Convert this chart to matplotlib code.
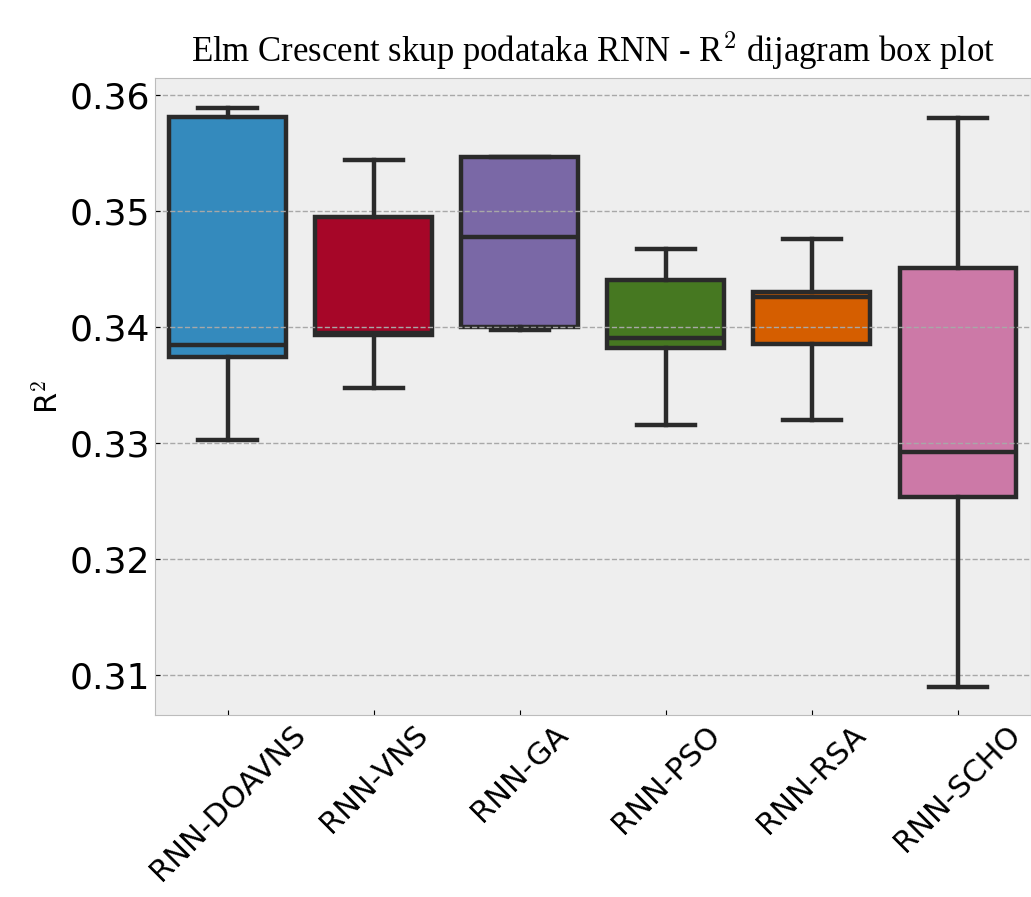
import matplotlib
matplotlib.use('Agg')
import matplotlib.pyplot as plt

plt.style.use('bmh')

# algorithms and box plot statistics
labels = ['RNN-DOAVNS', 'RNN-VNS', 'RNN-GA', 'RNN-PSO', 'RNN-RSA', 'RNN-SCHO']
whislo = [0.33026, 0.33474, 0.33974, 0.33155, 0.33198, 0.30897]
q1 = [0.33741, 0.33931, 0.34000, 0.33819, 0.33853, 0.32534]
med = [0.33845, 0.33948, 0.34776, 0.33905, 0.34259, 0.32922]
q3 = [0.35810, 0.34948, 0.35466, 0.34405, 0.34302, 0.34509]
whishi = [0.35888, 0.35440, 0.35466, 0.34672, 0.34759, 0.35802]
colors = ['#348ABD', '#A60628', '#7A68A6', '#467821', '#D55E00', '#CC79A7']
yticks = [0.31, 0.32, 0.33, 0.34, 0.35, 0.36]

stats = []
for i in range(len(labels)):
    stats.append({'label': labels[i], 'whislo': whislo[i], 'q1': q1[i],
                  'med': med[i], 'q3': q3[i], 'whishi': whishi[i], 'fliers': []})

fig = plt.figure(figsize=(10.31, 8.97), dpi=100)
ax = fig.add_axes([0.150, 0.203, 0.850, 0.710])

edge = '#2a2a2a'
lw = 3.2
bp = ax.bxp(stats, positions=range(len(labels)), widths=0.8, patch_artist=True,
            boxprops=dict(edgecolor=edge, linewidth=lw),
            medianprops=dict(color=edge, linewidth=lw),
            whiskerprops=dict(color=edge, linewidth=lw),
            capprops=dict(color=edge, linewidth=lw),
            capwidths=0.4, showfliers=False)
for patch, c in zip(bp['boxes'], colors):
    patch.set_facecolor(c)
    patch.set_zorder(1)  # grid goes over the boxes like in the original

ax.set_xlim(-0.5, 5.5)
ax.set_ylim(0.30655, 0.36147)
ax.set_yticks(yticks)
ax.set_yticklabels(['%.2f' % v for v in yticks], fontsize=26)
ax.set_xticks(range(len(labels)))
ax.set_xticklabels(labels, rotation=45, fontsize=22)
ax.grid(False, axis='x')
ax.grid(True, axis='y', color='#a8a8a8', linestyle='--', linewidth=1.0)
ax.set_ylabel(r'R$^{2}$', fontsize=22)
ax.set_title(r'Elm Crescent skup podataka RNN - R$^{\mathbf{2}}$ dijagram box plot',
             family='Liberation Serif', fontsize=25, pad=12)

fig.savefig('out.png', dpi=100)
